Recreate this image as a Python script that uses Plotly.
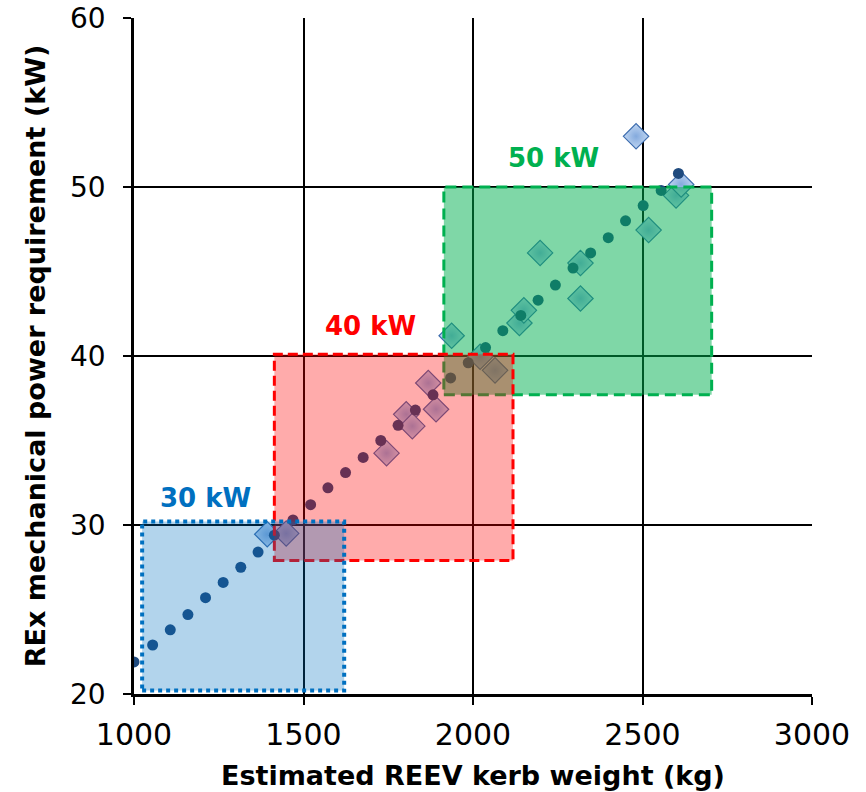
import plotly.graph_objects as go

# Regression line points: REEV kerb weight (kg) vs required REx power (kW)
trend_weight = [1000, 1055, 1107, 1159, 1211, 1263, 1315, 1366, 1414, 1469,
                1521, 1572, 1624, 1676, 1728, 1779, 1830, 1882, 1934, 1986,
                2037, 2088, 2141, 2192, 2243, 2295, 2347, 2399, 2450, 2502,
                2555, 2606]
trend_power = [21.9, 22.9, 23.8, 24.7, 25.7, 26.6, 27.5, 28.4, 29.4, 30.3,
               31.2, 32.2, 33.1, 34.0, 35.0, 35.9, 36.8, 37.7, 38.7, 39.6,
               40.5, 41.5, 42.4, 43.3, 44.2, 45.2, 46.1, 47.0, 48.0, 48.9,
               49.8, 50.8]

# Individual vehicles
vehicle_weight = [1393, 1449, 1745, 1803, 1821, 1868, 1891, 1937, 2021, 2065,
                  2137, 2150, 2198, 2317, 2317, 2481, 2518, 2599, 2614]
vehicle_power = [29.45, 29.5, 34.25, 36.55, 35.85, 38.4, 36.85, 41.2, 39.95, 39.15,
                 41.95, 42.7, 46.1, 45.5, 43.4, 53.0, 47.45, 49.5, 50.15]

# Engine size bands: label, weight range, power range
band_labels = ["50 kW", "40 kW", "30 kW"]
band_weight = [(1914, 2704), (1414, 2118), (1024, 1620)]
band_power = [(37.7, 50.0), (27.9, 40.1), (20.2, 30.2)]
band_colors = ["rgb(0,176,80)", "rgb(255,0,0)", "rgb(0,112,192)"]
band_fills = ["rgba(0,176,80,0.5)", "rgba(255,0,0,0.33)", "rgba(0,112,192,0.3)"]
band_dash = ["11px,6px", "10px,5px", "4px,4px"]
band_width = [3, 3, 4]
band_label_pos = [(2236, 51.7), (1699, 41.8), (1211, 31.6)]

x_ticks = [1000, 1500, 2000, 2500, 3000]
y_ticks = [20, 30, 40, 50, 60]

fig = go.Figure()

fig.add_trace(go.Scatter(
    x=vehicle_weight, y=vehicle_power, mode="markers",
    marker=dict(symbol="diamond", size=19.5,
                color="#C0D6F2",
                gradient=dict(type="radial", color="#84AADD"),
                line=dict(color="#3E6DAE", width=1.2)),
    hoverinfo="x+y", showlegend=False,
))

fig.add_trace(go.Scatter(
    x=trend_weight, y=trend_power, mode="markers",
    marker=dict(symbol="circle", size=11, color="#1F4A7E", line=dict(width=0)),
    hoverinfo="x+y", showlegend=False,
))

for label, (wx0, wx1), (py0, py1), col, fill, dash, lw, (ax, ay) in zip(
        band_labels, band_weight, band_power, band_colors, band_fills,
        band_dash, band_width, band_label_pos):
    fig.add_shape(type="rect", xref="x", yref="y",
                  x0=wx0, x1=wx1, y0=py0, y1=py1,
                  fillcolor=fill, line=dict(color=col, width=lw, dash=dash),
                  layer="above")
    fig.add_annotation(x=ax, y=ay, xref="x", yref="y", text=label,
                       showarrow=False,
                       font=dict(family="DejaVu Sans", size=26, color=col,
                                 weight="bold"))

axis_common = dict(
    showgrid=True, gridcolor="black", gridwidth=1.5,
    showline=True, linecolor="black", linewidth=2.5,
    ticks="outside", ticklen=8, tickwidth=2, tickcolor="black",
    zeroline=False, mirror=False, automargin=False,
)

fig.update_xaxes(range=[1000, 3000], tickvals=x_ticks,
                 tickfont=dict(family="DejaVu Sans", size=30, color="black"),
                 ticklabelstandoff=4,
                 title=dict(text="Estimated REEV kerb weight (kg)",
                            font=dict(family="DejaVu Sans", size=27,
                                      color="black", weight="bold"),
                            standoff=16),
                 **axis_common)
fig.update_yaxes(range=[20, 60], tickvals=y_ticks,
                 tickfont=dict(family="DejaVu Sans", size=28, color="black"),
                 ticklabelstandoff=12,
                 title=dict(text="REx mechanical power requirement (kW)",
                            font=dict(family="DejaVu Sans", size=27,
                                      color="black", weight="bold"),
                            standoff=17),
                 **axis_common)

fig.update_layout(
    width=866, height=792,
    margin=dict(l=134, r=54, t=18, b=98),
    plot_bgcolor="white", paper_bgcolor="white",
    showlegend=False,
)

fig.write_html("out.html")
